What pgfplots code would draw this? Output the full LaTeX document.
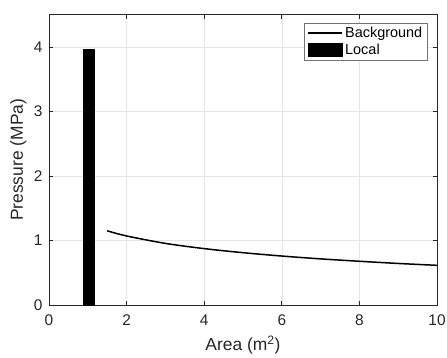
\documentclass[border=0pt]{standalone}
\usepackage{pgfplots}
\pgfplotsset{compat=1.18}
\usepackage{fontspec}
\setmainfont{Liberation Sans}
\definecolor{axcol}{RGB}{38,38,38}
\begin{document}
\begin{tikzpicture}
\begin{axis}[
  scale only axis, width=388bp, height=290.3bp,
  xmin=0, xmax=10, ymin=0, ymax=4.5,
  xtick={0,2,4,6,8,10}, ytick={0,1,2,3,4},
  grid=major, major grid style={black!10, line width=0.5bp},
  tick align=inside, major tick length=4bp,
  axis line style={axcol, line width=0.7bp},
  tick style={axcol, line width=0.7bp},
  ticklabel style={font=\fontsize{15.5}{18}\selectfont, text=axcol},
  xticklabel style={yshift=-6bp},
  yticklabel style={xshift=-3bp},
  /pgf/number format/assume math mode=true,
  xlabel={Area (m\textsuperscript{2})},
  ylabel={Pressure (MPa)},
  label style={font=\fontsize{17.5}{20}\selectfont, text=axcol},
  xlabel style={at={(axis description cs:0.5,-0.138)}, anchor=center},
  ylabel style={at={(axis description cs:-0.079,0.5)}, anchor=center},
  legend style={at={(rel axis cs:0.977,0.972)}, anchor=north east,
    draw=black!55, line width=0.6bp, fill=white,
    font=\fontsize{14.5}{17}\selectfont, inner xsep=3bp, inner ysep=2bp,
    row sep=1bp,
    cells={anchor=west},
    nodes={inner xsep=2.5bp}},
]
\coordinate (sw) at (rel axis cs:0,0);
\coordinate (ne) at (rel axis cs:1,1);
\addplot[black, line width=1.5bp, smooth,
  legend image code/.code={\draw[black, line width=1.3bp] (0bp,0bp) -- (34bp,0bp);}]
  coordinates {(1.5,1.15) (2,1.07) (3,0.955) (4,0.874) (5,0.811) (6,0.759) (7,0.715) (8,0.678) (9,0.644) (10,0.615)};
\addlegendentry{Background}
\addplot[ybar, bar width=0.3, fill=black, draw=black,
  legend image code/.code={\fill[black] (0bp,-6.5bp) rectangle (34bp,6.5bp);}]
  coordinates {(1.02,3.97)};
\addlegendentry{Local}
\end{axis}
\pgfresetboundingbox
\path[use as bounding box] ([shift={(-49bp,-53bp)}]sw) rectangle ([shift={(10bp,14.7bp)}]ne);
\end{tikzpicture}
\end{document}
